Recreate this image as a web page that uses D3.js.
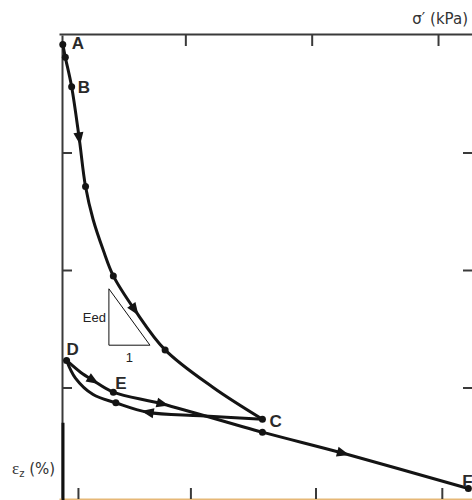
<!DOCTYPE html>
<html>
<head>
<meta charset="utf-8">
<script src="https://cdn.jsdelivr.net/npm/d3@7"></script>
<style>
  html, body { margin: 0; padding: 0; background: #fff; }
  svg { display: block; }
  .axis path, .axis line { stroke: #3a3a3a; stroke-width: 2; }
  .branch { fill: none; stroke: #141414; stroke-width: 3; stroke-linejoin: round; }
  .pt-label { font-family: "Liberation Sans", Arial, sans-serif; font-weight: bold; font-size: 17px; fill: #2a2a2a; }
</style>
</head>
<body>
<div id="chart"></div>
<script>
// loading path A -> B -> C  (sigma' in kPa, strain in %)
const loadSigma = [3, 5, 10, 16, 21, 27, 35, 43, 60, 84, 122, 161];
const loadStrain = [0.08, 0.19, 0.44, 0.88, 1.29, 1.57, 1.83, 2.05, 2.34, 2.68, 3.00, 3.27];
// unloading C -> D
const unloadSigma = [161, 112, 70, 45, 27, 13, 6];
const unloadStrain = [3.27, 3.24, 3.21, 3.13, 3.06, 2.92, 2.77];
// reloading D -> E -> F
const reloadSigma = [6, 17, 27, 43, 82, 161, 225, 324];
const reloadStrain = [2.77, 2.87, 2.94, 3.04, 3.14, 3.38, 3.56, 3.86];

// marked points
const dotSigma = [3, 5, 10, 21, 43, 84, 161, 45, 6, 43, 161, 324];
const dotStrain = [0.08, 0.19, 0.44, 1.29, 2.05, 2.68, 3.27, 3.13, 2.77, 3.04, 3.38, 3.86];

// named points
const labelNames = ['A', 'B', 'C', 'D', 'E', 'F'];
const labelSigma = [3, 10, 161, 6, 43, 324];
const labelStrain = [0.08, 0.44, 3.27, 2.77, 3.04, 3.86];

// arrows, given by sigma' along each branch
const loadArrows = [16, 60];
const unloadArrows = [70];
const reloadArrows = [27, 82, 225];

// ticks
const topTicks = [100, 200, 300];
const bottomTicks = [15, 104, 203, 303];
const strainTicks = [1, 2, 3];

// Eed triangle (sigma', strain)
const triSigma = [39.5, 39.5, 72];
const triStrain = [2.16, 2.64, 2.64];

const width = 472;
const height = 500;

let svg = d3.select('#chart')
  .append('svg')
  .attr('width', width)
  .attr('height', height);

let x = d3.scaleLinear().domain([0, 350]).range([59, 501.2]);
let y = d3.scaleLinear().domain([0, 4]).range([35, 505]);

// axes
svg.append('g')
  .attr('class', 'axis')
  .attr('transform', 'translate(0,34)')
  .call(d3.axisBottom(x).tickValues(topTicks).tickSize(12).tickSizeOuter(0).tickFormat(''));

svg.append('g')
  .attr('class', 'axis')
  .attr('transform', 'translate(62,0)')
  .call(d3.axisRight(y).tickValues(strainTicks).tickSize(10).tickSizeOuter(0).tickFormat(''));

let right = svg.append('g')
  .attr('class', 'axis')
  .attr('transform', 'translate(472,0)')
  .call(d3.axisLeft(y).tickValues(strainTicks).tickSize(9).tickSizeOuter(0).tickFormat(''));
right.select('.domain').remove();

let bottom = svg.append('g')
  .attr('class', 'axis')
  .attr('transform', 'translate(0,499)')
  .call(d3.axisTop(x).tickValues(bottomTicks).tickSize(11).tickSizeOuter(0).tickFormat(''));
bottom.select('.domain').style('stroke', '#e6b877').style('stroke-width', 2);

// darker lower part of the strain axis
svg.append('line')
  .attr('x1', 63).attr('x2', 63)
  .attr('y1', y(3.3)).attr('y2', height)
  .attr('stroke', '#111').attr('stroke-width', 3);

// axis titles
svg.append('text')
  .attr('x', 468)
  .attr('y', 24)
  .attr('text-anchor', 'end')
  .style('font-family', '"DejaVu Sans", sans-serif')
  .style('font-size', '15px')
  .style('fill', '#333')
  .text('σ′ (kPa)');

let eps = svg.append('text')
  .attr('x', 12)
  .attr('y', 474)
  .style('font-family', '"DejaVu Sans", sans-serif')
  .style('font-size', '15px')
  .style('fill', '#333');
eps.append('tspan').style('font-family', '"Liberation Serif", serif').style('font-size', '17px').text('ε');
eps.append('tspan').attr('dy', 3).style('font-size', '10px').text('z');
eps.append('tspan').attr('dy', -3).text(' (%)');

// branches
let line = d3.line()
  .x(d => x(d[0]))
  .y(d => y(d[1]))
  .curve(d3.curveCatmullRom.alpha(0.5));

function drawBranch(sigma, strain, arrows) {
  let pts = sigma.map((s, i) => [s, strain[i]]);
  let path = svg.append('path')
    .attr('class', 'branch')
    .attr('d', line(pts));
  let node = path.node();
  let len = node.getTotalLength();
  arrows.forEach(s => {
    let target = x(s);
    let best = 0;
    let bestD = Infinity;
    for (let l = 0; l <= len; l += 0.5) {
      let p = node.getPointAtLength(l);
      let d = Math.abs(p.x - target);
      if (d < bestD) { bestD = d; best = l; }
    }
    let p = node.getPointAtLength(best);
    let p0 = node.getPointAtLength(Math.max(0, best - 3));
    let p1 = node.getPointAtLength(Math.min(len, best + 3));
    let angle = Math.atan2(p1.y - p0.y, p1.x - p0.x) * 180 / Math.PI;
    svg.append('path')
      .attr('d', 'M6.5,0 L-6,-5 L-6,5 Z')
      .attr('fill', '#141414')
      .attr('transform', `translate(${p.x},${p.y}) rotate(${angle})`);
  });
}

drawBranch(loadSigma, loadStrain, loadArrows);
drawBranch(unloadSigma, unloadStrain, unloadArrows);
drawBranch(reloadSigma, reloadStrain, reloadArrows);

// dots
svg.selectAll('.dot')
  .data(dotSigma.map((s, i) => [s, dotStrain[i]]))
  .enter()
  .append('circle')
  .attr('class', 'dot')
  .attr('r', 3.5)
  .attr('cx', d => x(d[0]))
  .attr('cy', d => y(d[1]))
  .attr('fill', '#141414');

// point labels
const labelOffset = {A: [9, 5], B: [6, 6], C: [7, 8], D: [0, -5], E: [2, -3], F: [-6, -2]};
svg.selectAll('.pt-label')
  .data(labelNames.map((n, i) => ({n, s: labelSigma[i], e: labelStrain[i]})))
  .enter()
  .append('text')
  .attr('class', 'pt-label')
  .attr('x', d => x(d.s) + labelOffset[d.n][0])
  .attr('y', d => y(d.e) + labelOffset[d.n][1])
  .text(d => d.n);

// Eed triangle
svg.append('path')
  .attr('d', d3.line()(triSigma.map((s, i) => [x(s), y(triStrain[i])])) + 'Z')
  .attr('fill', 'none')
  .attr('stroke', '#111')
  .attr('stroke-width', 1);

svg.append('text')
  .attr('x', x(triSigma[0]) - 3)
  .attr('y', y((triStrain[0] + triStrain[1]) / 2) + 5)
  .attr('text-anchor', 'end')
  .style('font-family', '"Liberation Sans", Arial, sans-serif')
  .style('font-size', '13px')
  .style('fill', '#222')
  .text('Eed');

svg.append('text')
  .attr('x', x((triSigma[1] + triSigma[2]) / 2))
  .attr('y', y(triStrain[1]) + 17)
  .attr('text-anchor', 'middle')
  .style('font-family', '"Liberation Sans", Arial, sans-serif')
  .style('font-size', '13px')
  .style('fill', '#222')
  .text('1');
</script>
</body>
</html>
